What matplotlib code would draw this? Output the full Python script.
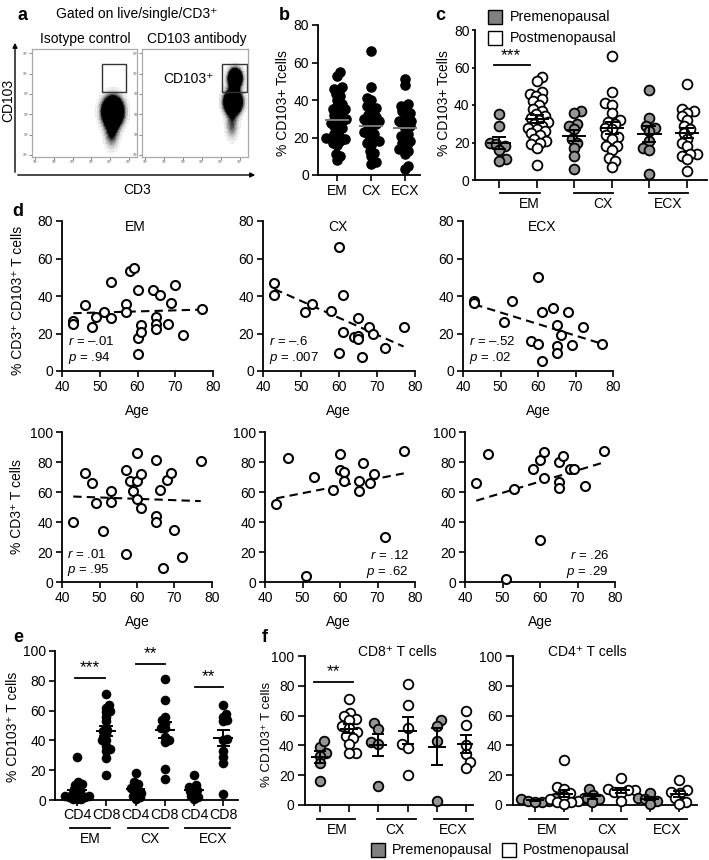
import numpy as np
import matplotlib
matplotlib.use("Agg")
import matplotlib.pyplot as plt
from matplotlib.lines import Line2D
from matplotlib.patches import Rectangle, FancyArrowPatch

plt.rcParams['font.family'] = ['Liberation Sans', 'DejaVu Sans']
plt.rcParams['mathtext.fontset'] = 'custom'
plt.rcParams['mathtext.it'] = 'Liberation Sans:italic'
plt.rcParams['mathtext.rm'] = 'Liberation Sans'

W, H = 709, 860
GREY = '#959595'
FS = 10

# ---------------- data ----------------
sites = ['EM', 'CX', 'ECX']

# a: flow populations (axes fraction), isotype vs CD103 antibody
iso_centers = [(0.77, 0.42), (0.76, 0.22)]
iso_sigmas = [(0.062, 0.085), (0.045, 0.09)]
iso_weights = [1.0, 0.22]
ab_centers = [(0.88, 0.73), (0.86, 0.51), (0.85, 0.30)]
ab_sigmas = [(0.042, 0.058), (0.052, 0.068), (0.04, 0.09)]
ab_weights = [0.8, 1.0, 0.18]
flow_ticks = ['10\u2070', '10\u00b9', '10\u00b2', '10\u00b3', '10\u2074', '10\u2075']

# c: % CD103+ of CD3+ by menopausal status
c_em_pre = [29, 35, 20, 19, 18, 16, 11, 10]
c_em_post = [55, 53, 47, 46, 45, 43, 42, 40, 38, 37, 35, 34, 33, 32, 31, 30,
             29, 28, 27, 26, 25, 24, 22, 21, 20, 19, 17, 8]
c_cx_pre = [37, 36, 30, 29, 27, 22, 20, 17, 13, 6]
c_cx_post = [66, 47, 41, 40, 36, 32, 31, 30, 28, 27, 24, 23, 22, 18, 18, 16, 12, 10, 7]
c_ecx_pre = [48, 33, 29, 28, 26, 21, 17, 16, 3]
c_ecx_post = [51, 38, 37, 36, 34, 32, 29, 27, 25, 22, 20, 18, 14, 14, 13, 11, 5]

# b: all donors per site
b_em = c_em_pre + c_em_post
b_cx = c_cx_pre + c_cx_post
b_ecx = c_ecx_pre + c_ecx_post

# d: age correlations, top = % CD3+CD103+, bottom = % CD3+
d_em_age = [43, 43, 46, 49, 48, 51, 53, 53, 57, 57, 58, 59, 60, 60, 60, 61, 61,
            64, 66, 65, 65, 65, 68, 70, 69, 72, 77]
d_em_pct = [26.5, 25.2, 35, 28.8, 23.5, 31.5, 47.5, 28.3, 36, 31.5, 53.2, 55, 43,
            17.8, 8.9, 24.7, 20.8, 43, 40.4, 28.8, 25.2, 22.2, 25.2, 46, 36.3, 19.4, 33.2]
d_cx_age = [43, 43, 51, 53, 58, 60, 60, 61, 61, 64, 65, 65, 65, 66, 68, 69, 72, 77]
d_cx_pct = [47.1, 40.4, 31.6, 35.6, 32.2, 66, 9.8, 40.5, 20.6, 18.3, 28.1, 18.7,
            16.9, 7.6, 23.3, 19.6, 12.1, 23.3]
d_ecx_age = [43, 43, 51, 53, 58, 60, 60, 61, 61, 64, 65, 65, 65, 66, 68, 69, 72, 77]
d_ecx_pct = [37.3, 36.1, 26.3, 37.3, 16, 50.1, 14.2, 31.6, 5.3, 33.8, 24.5, 13.3,
             9.8, 19.2, 31.5, 13.9, 23.6, 14.2]

d3_em_age = [43, 46, 48, 49, 51, 53, 53, 57, 57, 58, 59, 60, 60, 60, 61, 61, 65, 65,
             65, 66, 67, 68, 69, 70, 72, 77]
d3_em_pct = [40.2, 73, 65.8, 52.5, 34.2, 61, 53.6, 74.8, 19, 67.4, 61, 86, 67.4, 55.4,
             49.6, 72.1, 81.5, 44, 39.7, 61.4, 9.4, 68.1, 72.5, 34.6, 16.7, 80.8]
d3_cx_age = [43, 46, 53, 51, 58, 60, 60, 61, 61, 65, 65, 66, 68, 69, 72, 77]
d3_cx_pct = [51.8, 82.9, 70, 3.8, 61.1, 85.1, 74.4, 73.3, 67.3, 67.3, 60.7, 79.6,
             66.2, 72.2, 30, 87.1]
d3_ecx_age = [43, 46, 51, 53, 58, 60, 60, 61, 61, 65, 65, 65, 66, 68, 69, 72, 77]
d3_ecx_pct = [66.3, 85.4, 2.2, 61.8, 75.3, 81.6, 28.1, 87, 69.2, 80.2, 66.7, 62.9,
              84.3, 75.3, 75.3, 64, 87.6]

d_top_r = ['\u2013.01', '\u2013.6', '\u2013.52']
d_top_p = ['.94', '.007', '.02']
d_bot_r = ['.01', '.12', '.26']
d_bot_p = ['.95', '.62', '.29']

# e: CD4 vs CD8
e_em_cd4 = [29, 12, 11, 10, 9, 7, 6, 5, 4, 3, 3, 2, 2, 1, 1, 0.5]
e_em_cd8 = [71, 64, 62, 60, 59, 56, 53, 47, 46, 44, 40, 40, 36, 34, 33, 28, 17]
e_cx_cd4 = [18, 12, 11, 9, 8, 7, 6, 5, 4, 3, 2, 1]
e_cx_cd8 = [81, 67, 56, 54, 52, 48, 48, 42, 40, 39, 21, 14]
e_ecx_cd4 = [17, 10, 9, 8, 7, 6, 5, 3, 2, 1]
e_ecx_cd8 = [64, 58, 56, 54, 53, 41, 40, 33, 29, 25, 4]
e_ticklabels = ['CD4', 'CD8', 'CD4', 'CD8', 'CD4', 'CD8']

# f: menopausal status within CD8 / CD4
f8_em_pre = [39, 43, 35, 33, 28, 16]
f8_em_post = [71, 62, 60, 58, 57, 53, 52, 49, 46, 45, 41, 35, 35]
f8_cx_pre = [55, 51, 42, 41, 13]
f8_cx_post = [81, 67, 52, 41, 38, 20]
f8_ecx_pre = [57, 53, 43, 3]
f8_ecx_post = [63, 54, 40, 34, 29, 25]
f4_em_pre = [5, 4, 3, 3, 2, 2]
f4_em_post = [30, 12, 11, 8, 6, 5, 4, 3, 2, 2, 1]
f4_cx_pre = [11, 7, 5, 4, 2]
f4_cx_post = [18, 11, 10, 10, 9, 8, 3]
f4_ecx_pre = [8, 5, 4, 3, 1]
f4_ecx_post = [17, 10, 9, 8, 5, 2, 1]

# ---------------- helpers ----------------
fig = plt.figure(figsize=(W / 100, H / 100), dpi=100)


def px_axes(l, t, r, b):
    return fig.add_axes([l / W, 1 - b / H, (r - l) / W, (b - t) / H])


def ftext(x, y, s, **kw):
    fig.text(x / W, 1 - y / H, s, **kw)


def style(ax, ticklen=4, labelsize=FS):
    for s in ['top', 'right']:
        ax.spines[s].set_visible(False)
    for s in ['left', 'bottom']:
        ax.spines[s].set_linewidth(1.3)
    ax.tick_params(direction='out', length=ticklen, width=1.2, labelsize=labelsize, pad=2.5)


def swarm(vals, ypx, xpx, mind):
    # simple beeswarm: place sorted points at smallest free offset (pixels)
    vals = np.asarray(vals, float)
    order = np.argsort(vals)
    px_list, py_list = [], []
    offs = np.zeros(len(vals))
    for n, i in enumerate(order):
        y = vals[i] * ypx
        found = None
        for s in np.arange(0, 80, 0.5):
            cands = (s,) if s == 0 else ((s, -s) if n % 2 else (-s, s))
            for c in cands:
                if all((c - a) ** 2 + (y - b) ** 2 >= mind ** 2 for a, b in zip(px_list, py_list)):
                    found = c
                    break
            if found is not None:
                break
        px_list.append(found)
        py_list.append(y)
        offs[i] = found / xpx
    return offs


def mean_sem(ax, x, vals, hw, cw, color='black', lw=1.4, sem=True):
    m = np.mean(vals)
    ax.plot([x - hw, x + hw], [m, m], color=color, lw=lw, zorder=5, solid_capstyle='butt')
    if sem:
        se = np.std(vals, ddof=1) / np.sqrt(len(vals))
        ax.plot([x, x], [m - se, m + se], color=color, lw=lw, zorder=5)
        for yy in (m - se, m + se):
            ax.plot([x - cw, x + cw], [yy, yy], color=color, lw=lw, zorder=5)


def group_bars(ax, spans, texts_x, ybar, ytext, fs=FS):
    tr = ax.get_xaxis_transform()
    for (x0, x1), tx, site in zip(spans, texts_x, sites):
        ax.plot([x0, x1], [ybar, ybar], color='black', lw=1.3, transform=tr, clip_on=False)
        ax.text(tx, ytext, site, transform=tr, ha='center', va='center', fontsize=fs)


def fig_square(x, y, face):
    fig.add_artist(Line2D([x / W], [1 - y / H], marker='s', ms=10.5, mfc=face, mec='black',
                          mew=1.0, transform=fig.transFigure))


# ---------------- a ----------------
ftext(22, 15, 'a', fontsize=13, fontweight='bold', ha='center', va='center')
ftext(137, 14, 'Gated on live/single/CD3\u207a', fontsize=10, ha='center', va='center')
ftext(85, 39, 'Isotype control', fontsize=10, ha='center', va='center')
ftext(197, 39, 'CD103 antibody', fontsize=10, ha='center', va='center')

# ordered dither (finer than the pixel grid) so populations read as dense dot clouds
bayer = (np.array([[0, 8, 2, 10], [12, 4, 14, 6], [3, 11, 1, 9], [15, 7, 13, 5]]) + 0.5) / 16
ng = 324
gx, gy = np.meshgrid(np.linspace(0, 1, ng), np.linspace(0, 1, ng))
thr = np.tile(bayer, (ng // 4 + 1, ng // 4 + 1))[:ng, :ng]
for (l, r), centers, sigmas, weights, gate in [
        ((32, 137), iso_centers, iso_sigmas, iso_weights, (0.67, 0.60, 0.23, 0.26)),
        ((142, 248), ab_centers, ab_sigmas, ab_weights, (0.75, 0.60, 0.24, 0.26))]:
    ax = px_axes(l, 49, r, 157)
    dens = np.zeros_like(gx)
    for (cx, cy), (sx, sy), w in zip(centers, sigmas, weights):
        dens += w * np.exp(-0.5 * ((gx - cx) / sx) ** 2 - 0.5 * ((gy - cy) / sy) ** 2)
    shade = np.clip(dens * 4.5, 0, 1) ** 1.6
    dots = (shade > thr).astype(float)
    ax.imshow(dots, cmap='Greys', vmin=0, vmax=1, origin='lower', extent=[0, 1, 0, 1],
              aspect='auto', interpolation='antialiased')
    ax.add_patch(Rectangle(gate[:2], gate[2], gate[3], fill=False, ec='#333333', lw=1.0))
    ax.set_xlim(0, 1)
    ax.set_ylim(0, 1)
    for s in ax.spines.values():
        s.set_color('#aaaaaa')
        s.set_linewidth(0.9)
    ax.set_xticks(np.linspace(0.03, 0.92, 6))
    ax.set_yticks(np.linspace(0.02, 0.96, 6))
    ax.set_xticklabels(flow_ticks)
    ax.set_yticklabels(flow_ticks)
    ax.tick_params(length=2, width=0.5, labelsize=2.5, pad=0.5, colors='#555555')
ftext(188, 79, 'CD103\u207a', fontsize=10, ha='center', va='center')

fig.add_artist(FancyArrowPatch((15 / W, 1 - 175 / H), (15 / W, 1 - 40 / H), transform=fig.transFigure,
                               arrowstyle='-|>', mutation_scale=7, lw=1.0, color='black'))
fig.add_artist(FancyArrowPatch((15 / W, 1 - 175 / H), (258 / W, 1 - 175 / H), transform=fig.transFigure,
                               arrowstyle='-|>', mutation_scale=7, lw=1.0, color='black'))
ftext(8, 100, 'CD103', fontsize=FS, rotation=90, ha='center', va='center')
ftext(137, 190, 'CD3', fontsize=FS, ha='center', va='center')

# ---------------- b ----------------
ftext(284, 15, 'b', fontsize=13, fontweight='bold', ha='center', va='center')
ax = px_axes(318, 25, 420, 175)
style(ax, ticklen=4)
for i, vals in enumerate([b_em, b_cx, b_ecx]):
    offs = swarm(vals, 150 / 80, 34, 4.6)
    ax.scatter(i + offs, vals, s=58, color='black', lw=0, zorder=3, clip_on=False)
    mean_sem(ax, i, vals, 0.36, 0, color='#777777', lw=1.4, sem=False)
ax.set_xlim(-0.56, 2.44)
ax.set_ylim(0, 80)
ax.set_yticks([0, 20, 40, 60, 80])
ax.set_xticks([0, 1, 2])
ax.set_xticklabels(sites)
ftext(283, 103, '% CD103+ Tcells', fontsize=FS, rotation=90, ha='center', va='center')

# ---------------- c ----------------
ftext(440, 15, 'c', fontsize=13, fontweight='bold', ha='center', va='center')
ax = px_axes(475, 30, 707, 180)
style(ax, ticklen=6)
ax.tick_params(axis='y', length=2.5, pad=1.5)
c_groups = [c_em_pre, c_em_post, c_cx_pre, c_cx_post, c_ecx_pre, c_ecx_post]
for i, vals in enumerate(c_groups):
    offs = swarm(vals, 150 / 80, 37.6, 6.3)
    face = GREY if i % 2 == 0 else 'white'
    ax.scatter(i + offs, vals, s=50, facecolor=face, edgecolor='black', linewidths=1.3,
               zorder=3, clip_on=False)
    mean_sem(ax, i, vals, 0.32, 0.16)
ax.set_xlim(-0.64, 5.53)
ax.set_ylim(0, 80)
ax.set_yticks([0, 20, 40, 60, 80])
ax.set_xticks(range(6))
ax.set_xticklabels([])
ax.plot([-0.13, 0.82], [61.6, 61.6], color='black', lw=1.3)
ax.text(0.3, 66.5, '***', ha='center', va='center', fontsize=12.5)
group_bars(ax, [(0.03, 1.1), (2.0, 3.02), (4.0, 5.02)], [0.8, 2.75, 4.5], -0.087, -0.16)
ftext(444, 103, '% CD103+ Tcells', fontsize=FS, rotation=90, ha='center', va='center')
fig_square(495, 17, '#808080')
fig_square(495, 38, 'white')
ftext(510, 17, 'Premenopausal', fontsize=10.3, ha='left', va='center')
ftext(510, 38, 'Postmenopausal', fontsize=10.3, ha='left', va='center')

# ---------------- d ----------------
ftext(18, 212, 'd', fontsize=13, fontweight='bold', ha='center', va='center')
top_px = [(62, 221, 213, 371), (263, 221, 415, 371), (463, 221, 613, 371)]
bot_px = [(62, 432, 212, 582), (265, 432, 415, 582), (465, 432, 615, 582)]
top_data = [(d_em_age, d_em_pct), (d_cx_age, d_cx_pct), (d_ecx_age, d_ecx_pct)]
bot_data = [(d3_em_age, d3_em_pct), (d3_cx_age, d3_cx_pct), (d3_ecx_age, d3_ecx_pct)]
title_x = [59.5, 59.7, 61]
age_x_top = [137, 338, 538]
age_x_bot = [137, 338, 540]

for row, (pxs, data, rr, pp) in enumerate([(top_px, top_data, d_top_r, d_top_p),
                                             (bot_px, bot_data, d_bot_r, d_bot_p)]):
    ymax = 80 if row == 0 else 100
    for j, (rect, (age, pct)) in enumerate(zip(pxs, data)):
        ax = px_axes(*rect)
        style(ax, ticklen=4)
        age = np.asarray(age, float)
        pct = np.asarray(pct, float)
        ax.scatter(age, pct, s=42, facecolor='white', edgecolor='black', linewidths=1.5,
                   zorder=3, clip_on=False)
        k, c0 = np.polyfit(age, pct, 1)
        xs = np.array([age.min(), age.max()])
        ax.plot(xs, k * xs + c0, color='black', lw=1.5, ls=(0, (4, 2.5)), zorder=2)
        ax.set_xlim(40, 80)
        ax.set_ylim(0, ymax)
        ax.set_xticks([40, 50, 60, 70, 80])
        ax.set_yticks(np.arange(0, ymax + 1, 20))
        if row == 0:
            ax.text(title_x[j], 77, sites[j], ha='center', va='center', fontsize=FS)
            ax.text(41.6, 15.5, '$r$ = ' + rr[j], ha='left', va='center', fontsize=9.5)
            ax.text(41.6, 7.0, '$p$ = ' + pp[j], ha='left', va='center', fontsize=9.5)
        else:
            if j == 0:
                ax.text(41.4, 18.5, '$r$ = ' + rr[j], ha='left', va='center', fontsize=9.5)
                ax.text(41.4, 8, '$p$ = ' + pp[j], ha='left', va='center', fontsize=9.5)
            else:
                ax.text(78.4, 17.5, '$r$ = ' + rr[j], ha='right', va='center', fontsize=9.5)
                ax.text(78.4, 7, '$p$ = ' + pp[j], ha='right', va='center', fontsize=9.5)
        if row == 0:
            ftext(age_x_top[j], 411, 'Age', fontsize=FS, ha='center', va='center')
        else:
            ftext(age_x_bot[j], 622, 'Age', fontsize=FS, ha='center', va='center')
ftext(18, 300, '% CD3\u207a CD103\u207a T cells', fontsize=10, rotation=90, ha='center', va='center')
ftext(17, 507, '% CD3\u207a T cells', fontsize=10, rotation=90, ha='center', va='center')

# ---------------- e ----------------
ftext(18, 638, 'e', fontsize=13, fontweight='bold', ha='center', va='center')
ax = px_axes(55, 651, 238, 800)
style(ax, ticklen=4)
e_groups = [e_em_cd4, e_em_cd8, e_cx_cd4, e_cx_cd8, e_ecx_cd4, e_ecx_cd8]
for i, vals in enumerate(e_groups):
    offs = swarm(vals, 149 / 100, 29.2, 4.0)
    ax.scatter(i + offs, vals, s=48, color='black', lw=0, zorder=3, clip_on=False)
    mean_sem(ax, i, vals, 0.34, 0.2)
ax.set_xlim(-0.75, 5.5)
ax.set_ylim(0, 100)
ax.set_yticks(np.arange(0, 101, 20))
ax.set_xticks(range(6))
ax.set_xticklabels(e_ticklabels)
ax.tick_params(axis='x', pad=1.5, labelsize=10.3)
for (x0, x1), yb, tx, ty, s in [((-0.07, 0.96), 82, 0.45, 89, '***'),
                                ((2.0, 3.0), 91, 2.5, 98, '**'),
                                ((4.04, 5.0), 75.8, 4.5, 82.5, '**')]:
    ax.plot([x0, x1], [yb, yb], color='black', lw=1.3, clip_on=False)
    ax.text(tx, ty, s, ha='center', va='center', fontsize=12.5, clip_on=False)
group_bars(ax, [(-0.24, 1.13), (1.73, 3.1), (3.7, 5.24)], [0.45, 2.5, 4.65], -0.188, -0.262)
ftext(13, 727, '% CD103\u207a T cells', fontsize=FS, rotation=90, ha='center', va='center')

# ---------------- f ----------------
ftext(265, 638, 'f', fontsize=13, fontweight='bold', ha='center', va='center')
f_panels = [((305, 656, 473, 805), [f8_em_pre, f8_em_post, f8_cx_pre, f8_cx_post, f8_ecx_pre, f8_ecx_post],
             (-0.51, 5.24), 29.2, 'CD8\u207a T cells', 397,
             [(-0.1, 1.2), (1.95, 3.3), (3.9, 5.24)], [0.58, 2.57, 4.55]),
            ((513, 656, 697, 805), [f4_em_pre, f4_em_post, f4_cx_pre, f4_cx_post, f4_ecx_pre, f4_ecx_post],
             (-0.76, 5.63), 28.8, 'CD4\u207a T cells', 587,
             [(-0.2, 1.15), (1.9, 3.2), (3.9, 5.3)], [0.42, 2.5, 4.6])]
for k, (rect, groups, xl, xpx, title, tx, spans, txs) in enumerate(f_panels):
    ax = px_axes(*rect)
    style(ax, ticklen=5, labelsize=10)
    for i, vals in enumerate(groups):
        offs = swarm(vals, 149 / 100, xpx, 7.0)
        face = GREY if i % 2 == 0 else 'white'
        ax.scatter(i + offs, vals, s=48, facecolor=face, edgecolor='black', linewidths=1.3,
                   zorder=3, clip_on=False)
        mean_sem(ax, i, vals, 0.31, 0.17)
    ax.set_xlim(*xl)
    ax.set_ylim(0, 100)
    ax.set_yticks(np.arange(0, 101, 20))
    ax.set_xticks(range(6))
    ax.set_xticklabels([])
    group_bars(ax, spans, txs, -0.094, -0.165)
    ftext(tx, 652, title, fontsize=10, ha='center', va='center')
    if k == 0:
        ax.plot([-0.2, 1.13], [82.5, 82.5], color='black', lw=1.3)
        ax.text(0.45, 89.5, '**', ha='center', va='center', fontsize=12.5)
ftext(267, 734, '% CD103\u207a T cells', fontsize=9.5, rotation=90, ha='center', va='center')
fig_square(378, 850, '#808080')
fig_square(509, 850, 'white')
ftext(392, 850, 'Premenopausal', fontsize=10.3, ha='left', va='center')
ftext(523, 850, 'Postmenopausal', fontsize=10.3, ha='left', va='center')

fig.savefig('out.png', dpi=100)
